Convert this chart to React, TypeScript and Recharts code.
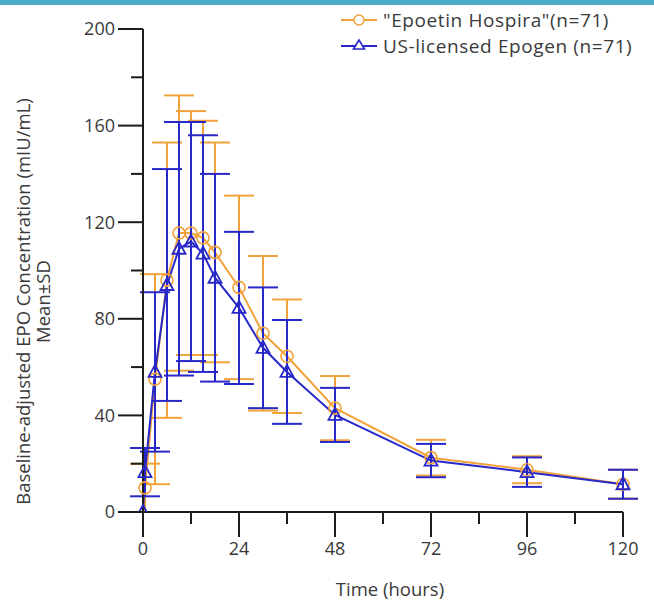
import React from 'react';
import { LineChart, Line, XAxis, YAxis, ErrorBar } from 'recharts';

// ---- data ----
const times = [0, 0.5, 3, 6, 9, 12, 15, 18, 24, 30, 36, 48, 72, 96, 120];
const hospiraMean = [null, 10, 55, 96, 115.5, 115.5, 113.5, 107.5, 93, 74, 64.5, 43, 22.5, 17.5, 11.5];
const hospiraSd = [null, 10, 43.5, 57, 57, 50.5, 48.5, 45.5, 38, 32, 23.5, 13.3, 7.4, 5.6, 6];
const epogenMean = [0, 16.5, 58, 94, 109, 112, 107, 97, 84.5, 68, 58, 40.2, 21.3, 16.5, 11.5];
const epogenSd = [null, 10, 33, 48, 52.5, 49.5, 49, 43, 31.5, 25, 21.5, 11.2, 6.9, 6.1, 6];

const xTicks = [0, 12, 24, 36, 48, 60, 72, 84, 96, 108, 120];
const xLabeled = [0, 24, 48, 72, 96, 120];
const yTicks = [0, 20, 40, 60, 80, 100, 120, 140, 160, 180, 200];
const yLabeled = [0, 40, 80, 120, 160, 200];

const seriesNames = ['"Epoetin Hospira"(n=71)', 'US-licensed Epogen (n=71)'];
const xTitle = 'Time (hours)';
const yTitle1 = 'Baseline-adjusted EPO Concentration (mIU/mL)';
const yTitle2 = 'Mean±SD';

const data = times.map((t, i) => ({
  t,
  hosp: hospiraMean[i],
  hospSd: hospiraSd[i],
  epo: epogenMean[i],
  epoSd: epogenSd[i],
}));

const ORANGE = '#F2A23A';
const BLUE = '#2828C8';
const AXIS = '#1c1c1c';
const TEXT = '#3a3a3a';
const FONT = '"Open Sans", sans-serif';
const TICK_FS = 18;
const TITLE_FS = 18.5;

const XTick = (props: any) => {
  const { x, y, payload } = props;
  const major = xLabeled.includes(payload.value);
  return (
    <g>
      <line x1={x} x2={x} y1={y} y2={y + (major ? 25 : 12)} stroke={AXIS} strokeWidth={2} />
      {major && (
        <text x={x} y={y + 43} textAnchor="middle" fill={TEXT} fontFamily={FONT} fontSize={TICK_FS}>
          {payload.value}
        </text>
      )}
    </g>
  );
};

const YTick = (props: any) => {
  const { x, y, payload } = props;
  const major = yLabeled.includes(payload.value);
  return (
    <g>
      <line x1={x - (major ? 25 : 12)} x2={x} y1={y} y2={y} stroke={AXIS} strokeWidth={2} />
      {major && (
        <text x={x - 28} y={y} dy="0.36em" textAnchor="end" fill={TEXT} fontFamily={FONT} fontSize={TICK_FS}>
          {payload.value}
        </text>
      )}
    </g>
  );
};

const YTitle = (props: any) => {
  const vb = props.viewBox || { x: 0, y: 29, width: 143, height: 483 };
  const cy = vb.y + vb.height / 2 + 31;
  const x1 = vb.x + 22;
  const x2 = vb.x + 42;
  return (
    <g fontFamily={FONT} fontSize={TITLE_FS} fill={TEXT}>
      <text x={x1} y={cy} textAnchor="middle" dominantBaseline="central" transform={`rotate(-90, ${x1}, ${cy})`}>
        {yTitle1}
      </text>
      <text x={x2} y={cy} textAnchor="middle" dominantBaseline="central" transform={`rotate(-90, ${x2}, ${cy})`}>
        {yTitle2}
      </text>
    </g>
  );
};

const XTitle = (props: any) => {
  const vb = props.viewBox || { x: 143, y: 512, width: 480, height: 91 };
  const cx = vb.x + vb.width / 2 + 7;
  return (
    <text x={cx} y={vb.y + 84} textAnchor="middle" fill={TEXT} fontFamily={FONT} fontSize={TITLE_FS}>
      {xTitle}
    </text>
  );
};

const CircleDot = (props: any) => {
  const { cx, cy, index, value } = props;
  if (cx == null || cy == null || value == null) return <g key={`c${index}`} />;
  return <circle key={`c${index}`} cx={cx} cy={cy} r={6} fill="none" stroke={ORANGE} strokeWidth={1.6} />;
};

const TriDot = (props: any) => {
  const { cx, cy, index, value } = props;
  if (cx == null || cy == null || value == null) return <g key={`t${index}`} />;
  const pts = `${cx},${cy - 7} ${cx - 6.5},${cy + 5} ${cx + 6.5},${cy + 5}`;
  return <polygon key={`t${index}`} points={pts} fill="none" stroke={BLUE} strokeWidth={1.8} />;
};

const LegendIcon = ({ kind }: { kind: 'circle' | 'tri' }) => (
  <svg width={36} height={24} style={{ display: 'block' }}>
    <line x1={0} x2={36} y1={12} y2={12} stroke={kind === 'circle' ? ORANGE : BLUE} strokeWidth={2} />
    {kind === 'circle' ? (
      <circle cx={18} cy={12} r={5} fill="#fff" stroke={ORANGE} strokeWidth={1.5} />
    ) : (
      <polygon points="18,6 12.5,15 23.5,15" fill="#fff" stroke={BLUE} strokeWidth={1.6} />
    )}
  </svg>
);

export default function App() {
  return (
    <div
      style={{
        position: 'absolute',
        left: 0,
        top: 0,
        width: 654,
        height: 603,
        background: '#ffffff',
        overflow: 'hidden',
      }}
    >
      <div style={{ position: 'absolute', left: 0, top: 0, width: 654, height: 5, background: '#4BACC6' }} />
      <LineChart width={654} height={603} data={data} margin={{ top: 29, right: 31, bottom: 0, left: 0 }}>
        <XAxis
          dataKey="t"
          type="number"
          domain={[0, 120]}
          ticks={xTicks}
          interval={0}
          height={91}
          tickSize={0}
          tickMargin={0}
          tickLine={false}
          axisLine={{ stroke: AXIS, strokeWidth: 2 }}
          tick={<XTick />}
          label={{ content: <XTitle /> }}
        />
        <YAxis
          type="number"
          domain={[0, 200]}
          ticks={yTicks}
          interval={0}
          allowDataOverflow
          width={143}
          tickSize={0}
          tickMargin={0}
          tickLine={false}
          axisLine={{ stroke: AXIS, strokeWidth: 2 }}
          tick={<YTick />}
          label={{ content: <YTitle /> }}
        />
        <Line
          dataKey="hosp"
          name={seriesNames[0]}
          stroke={ORANGE}
          strokeWidth={2}
          dot={<CircleDot />}
          activeDot={false}
          connectNulls
          isAnimationActive={false}
        >
          <ErrorBar dataKey="hospSd" width={15} stroke={ORANGE} strokeWidth={2} direction="y" isAnimationActive={false} />
        </Line>
        <Line
          dataKey="epo"
          name={seriesNames[1]}
          stroke={BLUE}
          strokeWidth={2}
          dot={<TriDot />}
          activeDot={false}
          isAnimationActive={false}
        >
          <ErrorBar dataKey="epoSd" width={15} stroke={BLUE} strokeWidth={2} direction="y" isAnimationActive={false} />
        </Line>
      </LineChart>
      <div
        style={{
          position: 'absolute',
          left: 341,
          top: 7,
          fontFamily: FONT,
          fontSize: 19,
          letterSpacing: 0.6,
          color: TEXT,
          lineHeight: '26px',
        }}
      >
        {seriesNames.map((n, i) => (
          <div key={n} style={{ display: 'flex', alignItems: 'center', height: 26 }}>
            <LegendIcon kind={i === 0 ? 'circle' : 'tri'} />
            <span style={{ marginLeft: 6, whiteSpace: 'nowrap' }}>{n}</span>
          </div>
        ))}
      </div>
    </div>
  );
}
